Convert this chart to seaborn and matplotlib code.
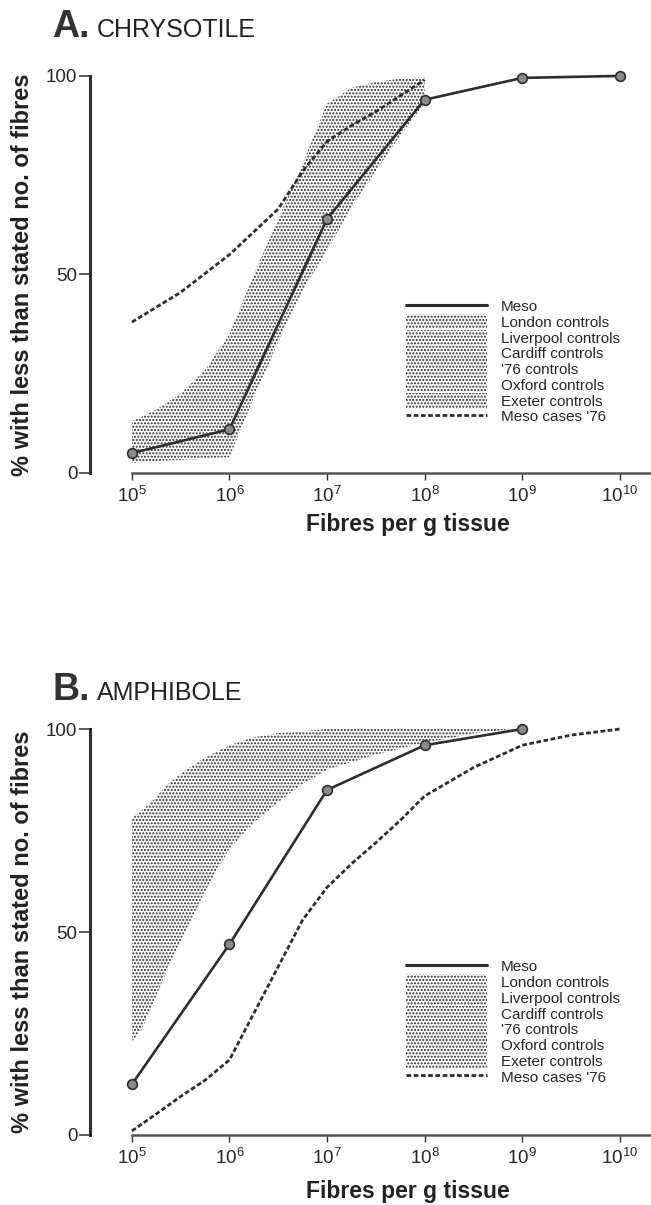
import numpy as np
import matplotlib
matplotlib.use("Agg")
import matplotlib.pyplot as plt
import seaborn as sns
from matplotlib.lines import Line2D
from matplotlib.patches import Patch

# ─────────────────────────────────────────────
# DATA, x = log10(fibres per g tissue)
# ─────────────────────────────────────────────
# A. chrysotile
a_meso_exp = [5, 6, 7, 8, 9, 10]
a_meso_pct = [5, 11, 64, 94, 99.5, 100]

a_cases_exp = [5, 5.5, 6, 6.5, 6.75, 7, 7.25, 7.5, 7.75, 8]
a_cases_pct = [38, 45.5, 55, 66.5, 76, 83.5, 87.5, 91, 95, 99]

a_band_exp = [5, 5.25, 5.5, 5.75, 6, 6.25, 6.5, 6.75, 7, 7.25, 7.5, 7.75, 8]
a_band_low = [2.5, 3, 3.3, 3.6, 4, 19, 33, 46, 56, 67, 76, 85, 93]
a_band_high = [13, 16, 20, 26, 35, 50, 64, 78, 93, 97, 98.5, 99.3, 99.7]

# B. amphibole
b_meso_exp = [5, 6, 7, 8, 9]
b_meso_pct = [12.5, 47, 85, 96, 100]

b_cases_exp = [5, 5.25, 5.5, 5.75, 6, 6.25, 6.5, 6.75, 7, 7.25, 7.5, 7.75,
               8, 8.5, 9, 9.5, 10]
b_cases_pct = [1, 5.2, 9.5, 13.5, 18.5, 30, 41.5, 53, 61, 66.8, 72, 77.5,
               83.5, 90.5, 96, 98.5, 100]

b_band_exp = [5, 5.1, 5.2, 5.35, 5.5, 5.75, 6, 6.25, 6.5, 6.75, 7, 7.5, 8,
              8.5, 8.9]
b_band_low = [23, 26, 31.5, 40, 47.8, 60, 70.5, 77, 82, 86.5, 90, 93.7, 96.6,
              98.9, 100]
b_band_high = [78, 80, 82, 86, 89, 93, 96, 98, 99, 99.5, 100, 100, 100, 100,
               100]

tick_exp = [5, 6, 7, 8, 9, 10]
legend_labels = ["Meso", "London controls", "Liverpool controls",
                 "Cardiff controls", "'76 controls", "Oxford controls",
                 "Exeter controls", "Meso cases '76"]

# ─────────────────────────────────────────────
# STYLE
# ─────────────────────────────────────────────
sns.set_style("white")
plt.rcParams["font.family"] = ["Liberation Sans", "DejaVu Sans"]
plt.rcParams["mathtext.default"] = "regular"
plt.rcParams["hatch.color"] = "#2a2a2a"
plt.rcParams["hatch.linewidth"] = 1.0

INK = "#2e2e2e"
HATCH = "....."
DASH = (0, (1.7, 0.9))

fig = plt.figure(figsize=(6.51, 12.05), dpi=100)
ax_a = fig.add_axes([0.1382, 0.6075, 0.8618, 0.3295])
ax_b = fig.add_axes([0.1382, 0.0581, 0.8618, 0.3369])


def draw_panel(ax, meso_exp, meso_pct, cases_exp, cases_pct,
               band_exp, band_low, band_high, legend_y):
    band_x = 10.0 ** np.array(band_exp)
    ax.fill_between(band_x, band_low, band_high, facecolor="none",
                    edgecolor="#2a2a2a", hatch=HATCH, linewidth=0)

    sns.lineplot(x=10.0 ** np.array(cases_exp), y=cases_pct, ax=ax,
                 color=INK, linewidth=2.0, linestyle=DASH, clip_on=False)
    sns.lineplot(x=10.0 ** np.array(meso_exp), y=meso_pct, ax=ax,
                 color=INK, linewidth=1.9, marker="o", markersize=7,
                 markerfacecolor="#8a8a8a", markeredgecolor=INK,
                 markeredgewidth=1.2, clip_on=False)

    ax.set_xscale("log")
    ax.set_xlim(10 ** 4.57, 10 ** 10.32)
    ax.set_ylim(0, 100)
    ax.set_xticks([10.0 ** e for e in tick_exp])
    ax.set_xticklabels([f"$10^{{{e}}}$" for e in tick_exp])
    ax.xaxis.set_minor_locator(plt.NullLocator())
    ax.set_yticks([0, 50, 100])
    ax.set_yticklabels(["0", "50", "100"])
    ax.tick_params(axis="y", direction="out", length=8, width=1.1,
                   labelsize=13.5, pad=1, color=INK, left=True)
    ax.tick_params(axis="x", direction="out", length=5, width=1.0,
                   labelsize=13.5, pad=4, color=INK, bottom=True)

    for side in ["top", "right"]:
        ax.spines[side].set_visible(False)
    ax.spines["left"].set_bounds(0, 100)
    ax.spines["left"].set_linewidth(2.2)
    ax.spines["left"].set_color(INK)
    ax.spines["bottom"].set_bounds(10 ** 5, 10 ** 10.32)
    ax.spines["bottom"].set_linewidth(1.8)
    ax.spines["bottom"].set_color("#555555")

    ax.set_ylabel("% with less than stated no. of fibres", fontsize=17,
                  fontweight="bold", color="#222222")
    ax.yaxis.set_label_coords(-0.1, 0.5)
    ax.set_xlabel("Fibres per g tissue", fontsize=16.5, fontweight="bold",
                  color="#222222")

    handles = [Line2D([], [], color=INK, linewidth=2.2)]
    handles += [Patch(facecolor="none", edgecolor="#2a2a2a", hatch=HATCH,
                      linewidth=0) for _ in range(6)]
    handles += [Line2D([], [], color=INK, linewidth=2.0, linestyle=DASH)]
    ax.legend(handles, legend_labels, loc="center left",
              bbox_to_anchor=(0.563, legend_y), frameon=False, fontsize=11,
              handlelength=5.3, handleheight=1.15, labelspacing=0.0,
              handletextpad=0.9, borderpad=0, borderaxespad=0)


draw_panel(ax_a, a_meso_exp, a_meso_pct, a_cases_exp, a_cases_pct,
           a_band_exp, a_band_low, a_band_high, 0.281)
ax_a.xaxis.set_label_coords(0.567, -0.1)

draw_panel(ax_b, b_meso_exp, b_meso_pct, b_cases_exp, b_cases_pct,
           b_band_exp, b_band_low, b_band_high, 0.279)
ax_b.xaxis.set_label_coords(0.567, -0.11)

# panel titles
fig.text(0.08, 0.9693, "A.", fontsize=27, fontweight="bold", color="#333333")
fig.text(0.149, 0.9693, "CHRYSOTILE", fontsize=18, color="#222222")
fig.text(0.08, 0.419, "B.", fontsize=27, fontweight="bold", color="#333333")
fig.text(0.149, 0.419, "AMPHIBOLE", fontsize=18, color="#222222")

fig.savefig("out.png", dpi=100)
